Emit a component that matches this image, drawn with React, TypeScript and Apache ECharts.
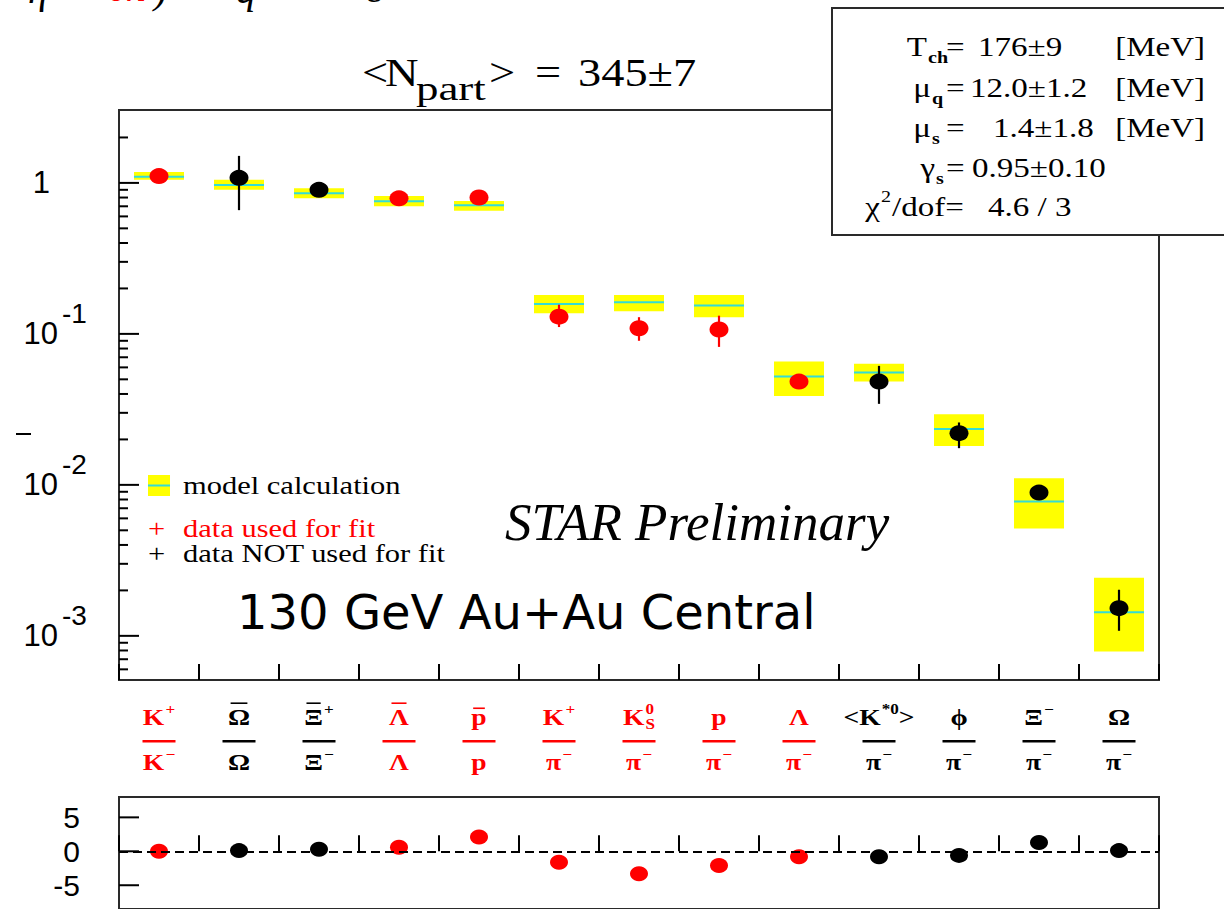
import React, { useEffect, useRef } from 'react';
import * as echarts from 'echarts';

// Particle ratios on the horizontal axis (markup: ^{..} superscript, _{..} subscript, #bar{..} overline)
const numerators = ['K^{+}', '#bar{Ω}', '#bar{Ξ}^{+}', '#bar{Λ}', '#bar{p}', 'K^{+}', 'K^{0}_{S}', 'p', 'Λ', '<K^{*0}>', 'ϕ', 'Ξ^{−}', 'Ω'];
const denominators = ['K^{−}', 'Ω', 'Ξ^{−}', 'Λ', 'p', 'π^{−}', 'π^{−}', 'π^{−}', 'π^{−}', 'π^{−}', 'π^{−}', 'π^{−}', 'π^{−}'];
const categories = numerators.map((n, i) => `${n}/${denominators[i]}`);
const usedInFit = [true, false, false, true, true, true, true, true, true, false, false, false, false];

// Measured ratios with their error bars
const measured = [1.11, 1.08, 0.9, 0.79, 0.8, 0.13, 0.109, 0.107, 0.0483, 0.0483, 0.022, 0.00889, 0.001525];
const measuredLow = [1.08, 0.66, 0.87, 0.77, 0.78, 0.111, 0.09, 0.082, 0.046, 0.0344, 0.0175, 0.0085, 0.00108];
const measuredHigh = [1.14, 1.51, 0.93, 0.81, 0.82, 0.156, 0.129, 0.132, 0.051, 0.0614, 0.0259, 0.0093, 0.00202];

// Thermal model calculation (central value and band)
const modelValue = [1.1, 0.97, 0.855, 0.757, 0.71, 0.158, 0.162, 0.154, 0.0522, 0.0554, 0.0234, 0.00775, 0.001435];
const modelLow = [1.05, 0.9, 0.79, 0.7, 0.655, 0.137, 0.141, 0.129, 0.0388, 0.0483, 0.0181, 0.00514, 0.000787];
const modelHigh = [1.18, 1.05, 0.92, 0.82, 0.76, 0.181, 0.181, 0.181, 0.0656, 0.0633, 0.0294, 0.01107, 0.00243];

// (data - model) / error
const residual = [0.0, 0.1, 0.3, 0.6, 2.1, -1.6, -3.3, -2.1, -0.8, -0.8, -0.6, 1.3, 0.1];

const ratioRange = [5.1e-4, 3.04];
const ratioMajorTicks = [1, 0.1, 0.01, 0.001];
const residualRange = [-8.5, 8];
const residualTicks = [5, 0, -5];

// Fit parameters box
const fitSymbols = ['T', 'μ', 'μ', 'γ', 'χ'];
const fitScripts = ['ch', 'q', 's', 's', '2'];
const fitValues = ['176±9', '12.0±1.2', '1.4±1.8', '0.95±0.10', '4.6 / 3'];
const fitUnits = ['[MeV]', '[MeV]', '[MeV]', '', ''];

const RED = '#ff0000';
const BLACK = '#000000';
const YELLOW = '#ffff00';
const CYAN = '#33dcd8';
const FRAME = '#2a2a2a';
const SERIF = '"Liberation Serif", "Times New Roman", serif';
const SANS = '"Liberation Sans", Arial, sans-serif';
const DEJAVU = '"DejaVu Sans", Verdana, sans-serif';

let measureCtx: CanvasRenderingContext2D | null = null;
function textWidth(text: string, font: string): number {
  if (!measureCtx) measureCtx = document.createElement('canvas').getContext('2d');
  measureCtx!.font = font;
  return measureCtx!.measureText(text).width;
}

type Piece = { text: string; x: number; dy: number; size: number; w: number; bar: boolean };

// Lays out a small markup string into positioned text pieces
function layoutMarkup(src: string, size: number, fontOf: (s: number) => string) {
  const pieces: Piece[] = [];
  let x = 0;
  let i = 0;
  let prevScript: Piece | null = null;
  let prevKind = '';
  while (i < src.length) {
    let kind = 'text';
    let body = '';
    if (src.startsWith('#bar{', i)) {
      const e = src.indexOf('}', i);
      kind = 'bar';
      body = src.slice(i + 5, e);
      i = e + 1;
    } else if ((src[i] === '^' || src[i] === '_') && src[i + 1] === '{') {
      const e = src.indexOf('}', i);
      kind = src[i];
      body = src.slice(i + 2, e);
      i = e + 1;
    } else {
      let j = i;
      while (j < src.length && src[j] !== '^' && src[j] !== '_' && !src.startsWith('#bar{', j)) j++;
      body = src.slice(i, j);
      i = j;
    }
    const script = kind === '^' || kind === '_';
    const s = script ? size * 0.62 : size;
    const w = textWidth(body, fontOf(s));
    let px: number;
    const stacked = script && prevScript && prevKind !== kind;
    if (stacked) {
      px = prevScript!.x;
      x = Math.max(x, px + w);
    } else {
      px = script ? x + size * 0.04 : x;
      x = px + w;
    }
    const dy = kind === '^' ? -0.34 * size : kind === '_' ? 0.3 * size : 0;
    const piece: Piece = { text: body, x: px, dy, size: s, w, bar: kind === 'bar' };
    pieces.push(piece);
    if (script && !stacked) {
      prevScript = piece;
      prevKind = kind;
    } else {
      prevScript = null;
      prevKind = '';
    }
  }
  return { pieces, width: x };
}

function markupElements(src: string, cx: number, cy: number, size: number, color: string, sx: number) {
  const fontOf = (s: number) => `bold ${s}px ${SERIF}`;
  const { pieces, width } = layoutMarkup(src, size, fontOf);
  const x0 = cx - (width * sx) / 2;
  const els: any[] = [];
  for (const p of pieces) {
    els.push({
      type: 'text',
      x: x0 + p.x * sx,
      y: cy + p.dy,
      scaleX: sx,
      style: {
        text: p.text, font: fontOf(p.size), fill: color,
        textAlign: 'left', textVerticalAlign: 'middle', align: 'left', verticalAlign: 'middle',
      },
    });
    if (p.bar) {
      const lower = /^[a-z]/.test(p.text);
      const by = cy + (lower ? -0.38 : -0.6) * size;
      els.push({
        type: 'line',
        shape: { x1: x0 + (p.x + p.w * 0.12) * sx, y1: by, x2: x0 + (p.x + p.w * 0.88) * sx, y2: by },
        style: { stroke: color, lineWidth: 1.6 },
      });
    }
  }
  return els;
}

function txt(x: number, y: number, text: string, size: number, o: any = {}) {
  const align = o.align ?? 'left';
  return {
    type: 'text',
    x,
    y,
    scaleX: o.sx ?? 1,
    z: 50,
    style: {
      text,
      font: `${o.italic ? 'italic ' : ''}${o.bold ? 'bold ' : ''}${size}px ${o.family ?? SERIF}`,
      fill: o.color ?? BLACK,
      textAlign: align,
      textVerticalAlign: 'middle',
      align,
      verticalAlign: 'middle',
    },
  };
}

function ratioMinorTicks(): number[] {
  const out: number[] = [];
  for (let e = -4; e <= 0; e++) {
    for (let k = 2; k <= 9; k++) {
      const v = k * Math.pow(10, e);
      if (v > ratioRange[0] && v < ratioRange[1] * 0.98) out.push(v);
    }
  }
  return out;
}

function buildOption(): any {
  const colorOf = (i: number) => (usedInFit[i] ? RED : BLACK);
  const nCat = categories.length;

  // stat box layout
  const rowY = [47, 88, 128, 168, 207];
  const symRight = [927, 931, 931, 935, 880];
  const valueLeft = [978, 970, 993, 972, 988];
  const boxSx = 1.18;
  const statEls: any[] = [
    { type: 'rect', z: 40, shape: { x: 832, y: 8, width: 420, height: 227 }, style: { fill: '#fff', stroke: FRAME, lineWidth: 2 } },
  ];
  fitSymbols.forEach((s, r) => {
    const y = rowY[r];
    statEls.push(txt(symRight[r], y, s, 28, { align: 'right', sx: boxSx }));
    if (r === 4) {
      statEls.push(txt(symRight[r] + 1, y - 11, fitScripts[r], 17, { sx: boxSx }));
      statEls.push(txt(892, y, '/dof=', 28, { sx: boxSx }));
    } else {
      statEls.push(txt(symRight[r] + 1, y + 10, fitScripts[r], 17, { sx: boxSx, bold: true }));
      statEls.push(txt(946, y, '=', 28, { sx: boxSx }));
    }
    statEls.push(txt(valueLeft[r], y, fitValues[r], 28, { sx: boxSx }));
    if (fitUnits[r]) statEls.push(txt(1205, y, fitUnits[r], 28, { sx: boxSx, align: 'right' }));
  });

  const titleSx = 1.16;
  const titleEls = [
    txt(362, 72, '<', 40, { sx: titleSx }),
    txt(385, 72, 'N', 40, { sx: titleSx }),
    txt(416, 89, 'part', 33, { sx: 1.36 }),
    txt(489, 72, '>', 40, { sx: titleSx }),
    txt(535, 72, '=', 40, { sx: titleSx }),
    txt(578, 72, '345±7', 40, { sx: titleSx }),
  ];

  // formula line running off the top edge of the slide
  const topEls = [
    txt(28, -11, 'η', 40, { italic: true }),
    txt(108, -13, 'ch', 40, { italic: true, color: RED }),
    txt(154, -11, ')', 40, { italic: true }),
    txt(236, -11, 'q', 40, { italic: true }),
    txt(368, -12, 's', 40, { italic: true }),
  ];

  const legSx = 1.22;
  const legendEls = [
    { type: 'rect', z: 50, shape: { x: 148, y: 475, width: 22, height: 21 }, style: { fill: YELLOW } },
    { type: 'line', z: 51, shape: { x1: 148, y1: 485.5, x2: 170, y2: 485.5 }, style: { stroke: CYAN, lineWidth: 2 } },
    txt(183, 485, 'model calculation', 25, { sx: legSx }),
    txt(148, 528, '+', 25, { sx: legSx, color: RED }),
    txt(183, 528, 'data used for fit', 25, { sx: legSx, color: RED }),
    txt(148, 553, '+', 25, { sx: legSx }),
    txt(183, 553, 'data NOT used for fit', 25, { sx: legSx }),
    txt(505, 522, 'STAR Preliminary', 53, { italic: true }),
    txt(237, 612, '130 GeV Au+Au Central', 48, { family: DEJAVU }),
    { type: 'line', z: 50, shape: { x1: 16, y1: 434, x2: 31, y2: 434 }, style: { stroke: BLACK, lineWidth: 2 } },
  ];

  const ratioTickData = [
    ...ratioMajorTicks.map((v) => [0, v, 20]),
    ...ratioMinorTicks().map((v) => [0, v, 9]),
  ];

  const tickSeries = (gridIdx: number, data: number[][]) => ({
    type: 'custom',
    xAxisIndex: gridIdx,
    yAxisIndex: gridIdx,
    clip: false,
    silent: true,
    z: 3,
    data,
    renderItem: (params: any, api: any) => {
      const y = api.coord([0, api.value(1)])[1];
      const x = params.coordSys.x;
      return { type: 'line', shape: { x1: x, y1: y, x2: x + api.value(2), y2: y }, style: { stroke: BLACK, lineWidth: 2 } };
    },
  });

  return {
    animation: false,
    backgroundColor: '#fff',
    grid: [
      { left: 119, top: 110, width: 1040, height: 570, show: true, borderColor: FRAME, borderWidth: 2, backgroundColor: 'transparent' },
      { left: 119, top: 797, width: 1040, height: 113, show: true, borderColor: FRAME, borderWidth: 2, backgroundColor: 'transparent' },
    ],
    xAxis: [0, 1].map((g) => ({
      gridIndex: g,
      type: 'category',
      data: categories,
      boundaryGap: true,
      axisLine: { show: false },
      axisTick: { show: true, inside: true, length: 16, interval: 0, lineStyle: { color: BLACK, width: 2 } },
      axisLabel: { show: false },
      splitLine: { show: false },
    })),
    yAxis: [
      {
        gridIndex: 0, type: 'log', logBase: 10, min: ratioRange[0], max: ratioRange[1],
        axisLine: { show: false }, axisTick: { show: false }, axisLabel: { show: false }, splitLine: { show: false },
      },
      {
        gridIndex: 1, type: 'value', min: residualRange[0], max: residualRange[1],
        axisLine: { show: false }, axisTick: { show: false }, axisLabel: { show: false }, splitLine: { show: false },
      },
    ],
    graphic: { elements: [...topEls, ...titleEls, ...legendEls, ...statEls] },
    series: [
      // model band
      {
        type: 'custom',
        xAxisIndex: 0,
        yAxisIndex: 0,
        clip: false,
        silent: true,
        z: 2,
        data: modelValue.map((v, i) => [i, modelLow[i], v, modelHigh[i]]),
        renderItem: (params: any, api: any) => {
          const i = api.value(0);
          const lo = api.coord([i, api.value(1)]);
          const mid = api.coord([i, api.value(2)]);
          const hi = api.coord([i, api.value(3)]);
          const w = (params.coordSys.width / nCat) * 0.625;
          return {
            type: 'group',
            children: [
              { type: 'rect', shape: { x: mid[0] - w / 2, y: hi[1], width: w, height: lo[1] - hi[1] }, style: { fill: YELLOW } },
              { type: 'line', shape: { x1: mid[0] - w / 2, y1: mid[1], x2: mid[0] + w / 2, y2: mid[1] }, style: { stroke: CYAN, lineWidth: 2 } },
            ],
          };
        },
      },
      // error bars
      {
        type: 'custom',
        xAxisIndex: 0,
        yAxisIndex: 0,
        clip: false,
        silent: true,
        z: 3,
        data: measured.map((v, i) => [i, measuredLow[i], measuredHigh[i]]),
        renderItem: (params: any, api: any) => {
          const i = api.value(0);
          const lo = api.coord([i, api.value(1)]);
          const hi = api.coord([i, api.value(2)]);
          return { type: 'line', shape: { x1: lo[0], y1: lo[1], x2: hi[0], y2: hi[1] }, style: { stroke: colorOf(i), lineWidth: 2.2 } };
        },
      },
      // measured points
      {
        type: 'scatter',
        xAxisIndex: 0,
        yAxisIndex: 0,
        symbol: 'circle',
        symbolSize: [19, 16],
        z: 4,
        silent: true,
        itemStyle: { opacity: 1 },
        data: measured.map((v, i) => ({ value: [i, v], itemStyle: { color: colorOf(i), opacity: 1 } })),
      },
      // ratio axis ticks
      tickSeries(0, ratioTickData),
      // ratio axis labels
      {
        type: 'custom',
        xAxisIndex: 0,
        yAxisIndex: 0,
        clip: false,
        silent: true,
        z: 3,
        data: ratioMajorTicks.map((v) => [0, v]),
        renderItem: (params: any, api: any) => {
          const v = api.value(1);
          const y = api.coord([0, v])[1];
          const x = params.coordSys.x;
          const exp = Math.round(Math.log10(v));
          const mk = (tx: number, ty: number, text: string, size: number, align: string) => ({
            type: 'text', x: tx, y: ty,
            style: { text, font: `${size}px ${SANS}`, fill: BLACK, textAlign: align, textVerticalAlign: 'middle', align, verticalAlign: 'middle' },
          });
          if (exp === 0) return { type: 'group', children: [mk(x - 69, y, '1', 31, 'right')] };
          return { type: 'group', children: [mk(x - 61, y, '10', 31, 'right'), mk(x - 57, y - 20, String(exp), 28, 'left')] };
        },
      },
      // ratio names under the main panel
      {
        type: 'custom',
        xAxisIndex: 0,
        yAxisIndex: 0,
        clip: false,
        silent: true,
        z: 3,
        data: categories.map((c, i) => [i, 1]),
        renderItem: (params: any, api: any) => {
          const i = api.value(0);
          const cx = api.coord([i, 1])[0];
          const base = params.coordSys.y + params.coordSys.height;
          const color = colorOf(i);
          const sx = 1.2;
          return {
            type: 'group',
            children: [
              ...markupElements(numerators[i], cx, base + 37, 23, color, sx),
              { type: 'rect', shape: { x: cx - 16.5, y: base + 60, width: 33, height: 2.6 }, style: { fill: color } },
              ...markupElements(denominators[i], cx, base + 82, 23, color, sx),
            ],
          };
        },
      },
      // residuals
      {
        type: 'scatter',
        xAxisIndex: 1,
        yAxisIndex: 1,
        symbol: 'circle',
        symbolSize: [18, 15],
        z: 4,
        silent: true,
        itemStyle: { opacity: 1 },
        data: residual.map((v, i) => ({ value: [i, v], itemStyle: { color: colorOf(i), opacity: 1 } })),
        markLine: {
          silent: true,
          symbol: ['none', 'none'],
          label: { show: false },
          lineStyle: { color: BLACK, width: 2, type: [9, 5], opacity: 1 },
          data: [{ yAxis: 0 }],
        },
      },
      tickSeries(1, residualTicks.map((v) => [0, v, 20])),
      {
        type: 'custom',
        xAxisIndex: 1,
        yAxisIndex: 1,
        clip: false,
        silent: true,
        z: 3,
        data: residualTicks.map((v) => [0, v]),
        renderItem: (params: any, api: any) => {
          const v = api.value(1);
          const y = api.coord([0, v])[1];
          return {
            type: 'text', x: params.coordSys.x - 39, y,
            style: { text: String(v), font: `30px ${SANS}`, fill: BLACK, textAlign: 'right', textVerticalAlign: 'middle', align: 'right', verticalAlign: 'middle' },
          };
        },
      },
    ],
  };
}

export default function App() {
  const ref = useRef<HTMLDivElement>(null);
  useEffect(() => {
    const chart = echarts.init(ref.current!, null, { renderer: 'svg' });
    chart.setOption(buildOption());
    return () => chart.dispose();
  }, []);
  return (
    <div
      ref={ref}
      style={{ position: 'absolute', left: 0, top: 0, width: 1224, height: 909, background: '#fff' }}
    />
  );
}
